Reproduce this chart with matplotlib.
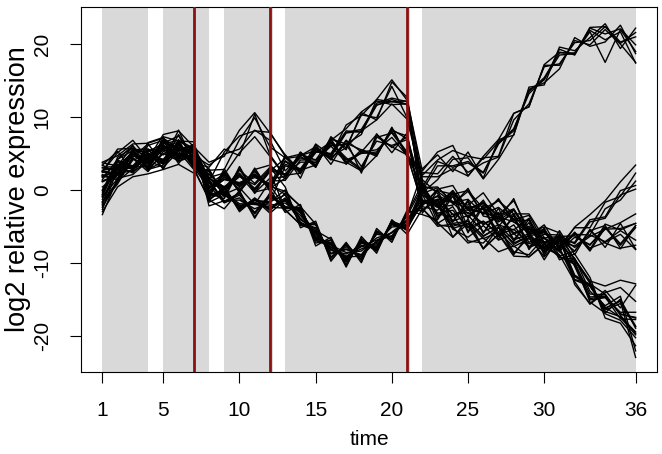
import matplotlib.pyplot as plt

plt.rcParams['font.family'] = ['Liberation Sans', 'DejaVu Sans']

# time points and the shaded / breakpoint layout
time = list(range(1, 37))
shaded_start = [1, 5, 9, 13, 22]
shaded_end = [4, 8, 12.2, 21.2, 36]
breakpoints = [7, 12, 21]
x_ticks = [1, 5, 10, 15, 20, 25, 30, 36]
y_ticks = [-20, -10, 0, 10, 20]

# genes that end near +20
genes_rising = [
    [2.5, 5.1, 6.8, 4.2, 7.6, 8.1, 5.9, 3.8, 4.6, 8.2, 10.6, 7.8, 4.8, 2.6, 6.3, 4.7, 8.9, 10.2, 12.4, 15.1, 12.3, 2.6, 5.2, 6.1, 1.9, 4.6, 6.9, 10.5, 11.4, 17.2, 18.9, 18.6, 22.3, 22.4, 20.1, 21.6],
    [-2.7, 2.9, 2.5, 3.8, 6.1, 3.9, 4.7, 3.4, 4.9, 5.6, 8.2, 6.8, 2.6, 4.7, 5.4, 4.3, 6.4, 5.5, 4.8, 8.1, 7.4, -0.4, 1.4, 4.2, 4.4, 1.5, 4.2, 7.6, 13.8, 14.7, 16.6, 20.9, 19.7, 20.3, 22.6, 18.7],
    [1.7, 3.9, 3.3, 5.5, 3.9, 6.2, 3.6, 2.2, 0.1, 2.7, 0.9, 3.1, 2.0, 2.3, 5.7, 4.5, 5.8, 10.3, 9.9, 14.2, 9.9, 2.0, 4.1, 5.4, 4.6, 4.2, 6.6, 8.3, 13.6, 15.1, 19.3, 18.5, 22.2, 21.4, 22.1, 19.9],
    [-1.6, 1.2, 4.3, 2.5, 5.3, 4.2, 4.9, -0.2, 1.8, 0.8, 1.7, 0.8, 4.4, 2.7, 3.4, 6.5, 4.4, 2.9, 7.3, 5.9, 4.8, 1.8, 1.8, 2.9, 1.9, 4.4, 4.6, 10.5, 11.4, 17.1, 17.1, 20.5, 19.9, 22.0, 20.0, 17.5],
    [3.0, 2.7, 4.9, 3.8, 6.0, 4.8, 6.0, -0.1, 1.4, 0.9, 2.2, 0.6, -0.6, -4.1, -5.4, -8.7, -8.1, -9.0, -6.0, -6.5, -3.5, 2.4, 2.2, 4.6, 2.4, 3.7, 4.5, 9.6, 11.8, 16.9, 17.3, 20.2, 20.5, 22.4, 20.3, 21.0],
    [-0.9, 1.5, 5.6, 5.0, 3.0, 6.4, 3.2, 2.5, -0.4, 2.9, -0.3, 0.2, 1.6, 5.0, 3.1, 6.9, 3.5, 5.5, 4.6, 8.5, 4.6, 2.9, 4.8, 2.5, 5.2, 1.6, 6.9, 7.5, 14.1, 14.4, 19.6, 19.1, 20.9, 22.8, 19.4, 22.2],
    [1.1, 2.1, 5.1, 2.9, 6.2, 4.4, 5.4, -0.5, -0.4, -1.9, -2.0, -2.4, -2.5, -2.6, -6.5, -7.5, -9.5, -7.6, -8.1, -4.7, -5.3, -0.1, 3.3, 3.3, 3.9, 2.4, 6.3, 8.4, 13.2, 15.2, 18.5, 18.7, 21.7, 17.5, 22.0, 19.0],
    [-1.8, 3.2, 3.0, 4.8, 3.6, 5.8, 3.4, 1.0, -1.6, -0.5, -3.1, -0.6, -2.3, -2.8, -6.7, -7.3, -9.7, -7.3, -7.6, -4.8, -5.4, 0.3, 3.9, 3.1, 3.7, 2.3, 6.4, 8.1, 13.5, 15.4, 18.8, 18.8, 21.9, 20.6, 21.7, 17.4],
]

# genes that dip and come back up to around 0
genes_rebound = [
    [-0.6, 4.2, 6.1, 2.8, 3.9, 8.2, 3.7, 3.1, 5.6, 4.7, 10.4, 4.8, 1.9, 5.1, 3.2, 7.0, 3.8, 2.6, 4.7, 8.6, 4.6, 0.6, -2.4, -2.1, 0.2, -3.6, -4.0, -1.2, -6.3, -4.8, -8.2, -5.1, -3.4, -1.5, 1.1, 3.4],
    [3.8, 4.7, 6.3, 6.4, 7.1, 5.6, 6.1, 0.3, 2.0, 0.6, 2.5, 0.4, 4.0, 2.6, 5.2, 5.0, 8.1, 7.9, 11.6, 12.4, 11.7, 0.6, -0.2, -1.8, -3.7, -1.4, -5.0, -2.7, -6.3, -8.0, -6.4, -7.9, -6.4, -5.4, -4.5, -3.3],
    [1.9, 2.4, 5.0, 3.1, 5.8, 4.7, 5.3, 0.4, 1.7, 0.6, 2.0, 0.6, -2.4, -2.8, -6.7, -7.3, -9.9, -7.1, -7.9, -4.6, -5.4, -1.6, -2.2, -5.3, -4.6, -6.7, -5.8, -7.8, -6.7, -8.5, -7.0, -7.2, -4.1, -3.7, -0.1, 0.6],
    [-2.2, 1.1, 4.1, 4.8, 3.5, 5.5, 5.0, -1.0, 0.1, -2.5, -1.5, -1.6, -0.7, -4.6, -5.2, -8.8, -8.2, -8.9, -6.1, -6.4, -3.6, 0.4, -2.3, -0.5, -2.5, -1.9, -4.2, -2.8, -5.7, -5.7, -7.7, -5.2, -5.2, -1.7, -0.9, 2.3],
    [0.0, 3.4, 3.2, 5.0, 4.1, 6.5, 3.7, 1.7, -0.6, 0.3, -2.0, 1.2, 1.3, 4.1, 4.1, 6.0, 3.8, 5.2, 5.5, 7.2, 4.7, -1.8, -0.9, -3.4, -3.1, -4.6, -3.8, -6.1, -5.0, -7.4, -6.3, -7.4, -4.4, -3.9, -0.7, 0.1],
    [3.1, 3.2, 5.2, 4.1, 6.5, 5.7, 5.9, -1.5, 0.5, -2.8, -1.1, -2.7, -1.3, -3.1, -5.8, -8.1, -9.4, -7.7, -6.9, -5.9, -4.6, 0.3, -3.6, -2.3, -5.6, -4.3, -6.1, -4.8, -7.9, -7.1, -8.0, -6.1, -6.2, -2.6, -1.4, 1.2],
]

# genes that settle around -6
genes_steady = [
    [-2.4, 1.2, 2.9, 5.6, 2.8, 6.9, 3.1, 0.2, 2.1, 5.1, 7.3, 4.6, 1.8, 5.2, 3.4, 7.1, 5.8, 8.1, 9.6, 11.8, 9.7, 1.2, -3.9, -0.4, -5.2, -2.1, -6.4, -3.5, -7.9, -5.3, -9.1, -8.4, -5.6, -7.3, -8.1, -4.9],
    [2.0, 1.6, 5.1, 2.8, 3.4, 6.7, 5.5, 1.7, 2.3, -0.2, 2.1, 0.2, 3.9, 2.4, 5.1, 6.6, 4.2, 2.7, 7.2, 7.8, 5.0, -2.2, 0.1, 0.6, -2.8, -3.1, -1.4, -4.1, -3.5, -7.3, -8.2, -5.8, -8.2, -4.7, -5.5, -4.6],
    [2.6, 2.2, 5.5, 5.6, 4.8, 6.5, 3.6, 2.1, 0.3, 2.3, 0.0, 2.5, -2.7, -4.8, -5.6, -6.8, -10.4, -6.7, -8.2, -4.2, -5.6, -0.1, -1.8, -5.4, -6.5, -4.9, -6.9, -6.0, -7.8, -6.6, -8.4, -6.5, -7.5, -5.4, -5.3, -4.6],
    [1.2, 2.1, 5.2, 3.2, 5.9, 4.7, 5.6, 0.8, 2.2, 0.4, 2.0, 0.3, 3.5, 2.9, 5.6, 4.5, 7.8, 8.1, 11.9, 12.6, 12.1, -1.4, -2.4, -0.9, -3.3, -2.6, -4.4, -3.3, -6.3, -5.9, -7.9, -6.0, -8.0, -7.2, -6.1, -8.2],
    [3.4, 5.3, 2.6, 6.1, 6.8, 3.6, 6.3, -1.1, 2.9, -0.4, 3.0, -0.2, 4.8, 1.6, 6.2, 3.5, 6.8, 2.3, 7.7, 5.1, 7.8, -3.2, -0.1, -4.4, -1.4, -6.0, -2.5, -7.1, -4.0, -9.0, -5.6, -8.9, -5.4, -7.9, -4.6, -8.1],
    [-0.8, 3.5, 2.8, 4.6, 3.7, 5.9, 3.0, -1.4, -2.6, -0.1, -3.9, -0.4, -2.8, -4.7, -4.8, -9.2, -7.6, -9.3, -5.7, -6.8, -3.3, 0.9, -4.5, -6.5, -4.6, -8.1, -6.1, -8.7, -6.5, -9.2, -6.7, -8.4, -5.6, -4.9, -8.0, -7.6],
    [-1.3, 3.0, 3.0, 5.1, 3.8, 6.1, 3.6, 1.3, -1.7, -1.1, -3.2, -0.6, -2.6, -2.4, -6.9, -7.8, -9.3, -7.2, -8.3, -4.3, -5.1, -0.7, -2.0, -0.1, -2.6, -1.7, -3.5, -2.6, -6.0, -5.8, -7.8, -5.9, -8.4, -5.2, -7.6, -5.2],
    [1.8, 2.8, 4.9, 4.1, 6.1, 4.8, 5.5, -0.7, -0.6, -2.1, -1.9, -2.1, -1.8, -3.5, -6.1, -8.3, -8.8, -7.8, -7.4, -5.8, -4.1, -1.4, -1.9, -5.0, -4.3, -6.3, -5.2, -7.3, -6.3, -8.4, -7.1, -7.7, -6.2, -7.1, -5.6, -6.9],
    [-1.7, 0.8, 4.4, 2.8, 5.0, 4.0, 4.7, 1.4, -1.6, -0.4, -3.7, -0.9, -2.4, -2.6, -7.0, -7.4, -9.5, -7.0, -8.0, -4.5, -5.0, -2.0, -0.1, -0.6, -0.1, -2.6, -1.5, -3.3, -3.3, -6.6, -6.4, -6.3, -7.6, -5.1, -7.4, -4.9],
]

# genes that drop towards -20
genes_falling = [
    [3.4, 2.3, 2.6, 6.5, 7.2, 4.1, 6.3, 1.1, 5.2, 7.4, 8.1, 7.9, 4.6, 2.2, 5.9, 4.1, 6.8, 5.2, 7.6, 5.8, 7.3, -2.8, -1.4, -6.5, -4.0, -8.1, -5.1, -8.9, -6.0, -9.6, -6.4, -9.5, -12.6, -17.0, -17.9, -20.3],
    [1.9, 1.4, 5.4, 3.6, 6.6, 4.4, 5.5, 2.7, 2.8, 6.9, 9.9, 5.9, 4.4, 4.9, 4.1, 7.0, 6.3, 7.6, 12.4, 12.1, 12.2, -2.3, -2.8, -0.1, -3.9, -1.7, -4.8, -5.5, -3.9, -8.0, -8.9, -12.6, -15.7, -14.1, -13.4, -15.3],
    [-1.0, 4.5, 5.7, 4.4, 6.4, 7.4, 4.3, -0.5, -1.2, 2.8, -0.1, 2.6, 4.3, 4.6, 3.3, 6.8, 8.4, 10.7, 12.2, 11.7, 11.8, 0.3, 0.4, -1.9, -0.2, -3.4, -1.2, -4.4, -5.9, -5.1, -5.9, -9.7, -12.8, -16.7, -17.4, -19.5],
    [-0.6, 3.4, 2.3, 5.3, 5.7, 6.6, 3.1, 2.6, -0.3, 2.0, -0.4, 1.6, 1.8, 4.7, 5.9, 4.2, 3.6, 5.1, 5.0, 8.3, 7.0, 0.1, -3.3, -3.7, -2.3, -2.7, -5.8, -3.9, -7.2, -6.1, -6.2, -12.3, -12.9, -14.3, -17.2, -19.7],
    [-0.1, 4.1, 3.1, 3.3, 6.1, 4.4, 5.4, 0.2, 1.5, 1.0, 1.9, 0.5, -0.2, -2.3, -4.7, -9.3, -7.8, -9.5, -5.8, -6.7, -3.2, -2.5, -5.0, -4.7, -5.0, -8.0, -6.1, -9.1, -9.2, -7.4, -9.2, -9.9, -15.4, -16.9, -15.0, -19.0],
    [-2.0, 3.3, 2.9, 4.5, 4.0, 5.7, 3.2, 1.0, 0.1, 1.8, 0.7, 2.8, 2.1, 3.8, 3.8, 6.1, 6.2, 3.2, 6.7, 6.1, 6.9, -2.0, -0.8, -1.7, -1.3, -3.3, -2.4, -4.2, -4.2, -7.2, -6.5, -10.5, -15.1, -14.8, -16.8, -16.8],
    [0.4, 2.0, 4.7, 3.6, 5.5, 4.5, 5.3, 1.6, 0.4, 2.1, 0.2, 2.6, 2.2, 4.4, 3.7, 6.4, 4.1, 5.0, 5.2, 8.0, 5.2, -0.3, -3.2, -2.8, -5.2, -4.3, -6.1, -5.4, -7.4, -6.6, -8.5, -10.3, -14.7, -14.6, -17.0, -17.6],
    [-3.0, 0.4, 1.8, 2.2, 2.8, 3.5, 2.3, 2.9, -1.0, 3.2, -0.5, 3.1, 0.4, -5.2, -4.3, -9.8, -7.2, -10.0, -5.3, -7.2, -2.8, -3.4, -4.1, -0.8, -5.9, -2.2, -6.8, -3.4, -8.2, -5.3, -9.6, -8.8, -12.0, -17.6, -18.3, -21.4],
    [2.5, 5.6, 5.7, 2.6, 7.3, 6.7, 6.6, -0.7, 2.6, -0.3, 2.8, 3.4, 1.5, 5.1, 3.1, 7.3, 5.5, 10.6, 9.6, 14.8, 12.7, 1.4, -0.5, -4.3, -1.6, -5.9, -3.1, -6.8, -4.5, -8.7, -6.1, -13.0, -15.6, -13.8, -16.2, -13.1],
    [2.1, 1.3, 4.5, 6.3, 3.6, 7.6, 4.1, -0.4, 2.4, 0.0, 2.7, 0.1, -3.1, -2.0, -7.7, -6.5, -10.6, -6.4, -8.7, -4.1, -6.1, -2.6, -4.6, -3.3, -7.0, -7.3, -5.1, -8.5, -8.9, -6.5, -9.3, -9.5, -12.5, -13.2, -12.4, -12.9],
    [1.4, 4.2, 5.4, 5.3, 6.3, 6.8, 5.7, 1.6, 0.4, -3.0, -1.2, -2.9, -0.4, -2.2, -7.3, -6.9, -10.2, -6.9, -8.4, -4.4, -5.5, -0.5, 0.3, -1.6, -2.1, -0.4, -3.4, -1.5, -5.5, -5.5, -8.0, -12.4, -13.2, -16.1, -17.5, -19.9],
    [2.7, 3.0, 5.3, 3.9, 6.7, 5.5, 5.6, -1.7, -0.7, -2.2, -1.8, -2.6, -1.1, -3.9, -5.9, -7.9, -9.1, -8.1, -7.2, -5.1, -4.9, -1.7, -2.0, -4.6, -4.3, -6.4, -5.1, -7.5, -6.3, -8.2, -7.0, -11.7, -13.0, -16.5, -15.6, -18.8],
    [3.7, 3.3, 6.0, 4.0, 6.9, 5.3, 6.2, -2.2, -1.5, -1.4, -2.6, -1.7, 0.0, -4.9, -4.6, -9.6, -7.4, -9.7, -5.6, -6.9, -3.1, -2.8, -1.3, -1.7, -2.5, -3.2, -3.7, -4.4, -5.4, -6.7, -7.4, -9.4, -13.9, -15.9, -14.6, -22.1],
    [-3.4, 1.6, 2.1, 4.0, 3.1, 5.3, 2.8, -1.2, -0.3, -2.4, -1.3, -3.2, -1.4, -4.4, -5.8, -8.2, -9.2, -9.1, -7.0, -6.3, -4.2, -0.6, -4.8, -5.1, -7.3, -6.6, -8.5, -7.7, -9.2, -7.5, -9.2, -10.2, -14.9, -14.7, -17.7, -17.8],
    [-0.3, 3.8, 3.2, 4.8, 4.2, 6.3, 3.7, 0.6, -1.8, -0.7, -3.3, -0.7, -2.3, -2.7, -6.8, -7.2, -9.8, -7.2, -7.8, -4.7, -5.3, -0.2, -2.1, -0.2, -2.8, -1.7, -3.8, -2.7, -5.8, -5.6, -8.0, -11.9, -13.2, -16.3, -15.2, -18.7],
    [2.4, 2.4, 5.0, 3.0, 5.9, 5.0, 5.1, -1.3, 0.2, -2.6, -1.4, -1.8, 3.3, 2.7, 5.4, 4.8, 7.9, 8.3, 11.7, 12.1, 11.8, -1.9, -1.5, -4.3, -3.5, -5.7, -4.8, -6.9, -6.0, -8.1, -7.0, -10.0, -14.3, -14.4, -17.1, -17.5],
    [1.2, 2.0, 4.9, 3.5, 5.6, 4.6, 5.4, -0.8, -0.2, -2.4, -1.8, -2.4, -1.5, -3.2, -6.4, -7.6, -8.6, -8.4, -6.6, -5.9, -4.3, -1.8, -1.3, -3.4, -2.7, -4.8, -3.6, -5.9, -5.2, -7.8, -6.7, -11.8, -13.2, -16.2, -15.3, -23.0],
]

fig = plt.figure(figsize=(6.62, 4.54), dpi=100)
ax = fig.add_axes([0.1224, 0.1806, 0.870, 0.804])

# grey blocks behind the curves
for start, end in zip(shaded_start, shaded_end):
    ax.axvspan(start, end, color='#d9d9d9', lw=0, zorder=0)

for group in (genes_rising, genes_rebound, genes_steady, genes_falling):
    for values in group:
        ax.plot(time, values, color='black', lw=1.0, zorder=2)

for b in breakpoints:
    ax.axvline(b, color='#8b1111', lw=2, zorder=3)

ax.set_xlim(-0.4, 37.4)
ax.set_ylim(-25.0, 25.1)
ax.set_xticks(x_ticks)
ax.set_yticks(y_ticks)
ax.set_xticklabels([str(t) for t in x_ticks])
ax.set_yticklabels([str(t) for t in y_ticks], rotation=90, va='center')
ax.tick_params(direction='out', length=8, width=0.8, pad=13, labelsize=15)
for side in ax.spines.values():
    side.set_linewidth(0.8)

ax.set_xlabel('time', fontsize=15, labelpad=7)
ax.set_ylabel('log2 relative expression', fontsize=19.5, labelpad=1)

fig.savefig('out.png', dpi=100)
